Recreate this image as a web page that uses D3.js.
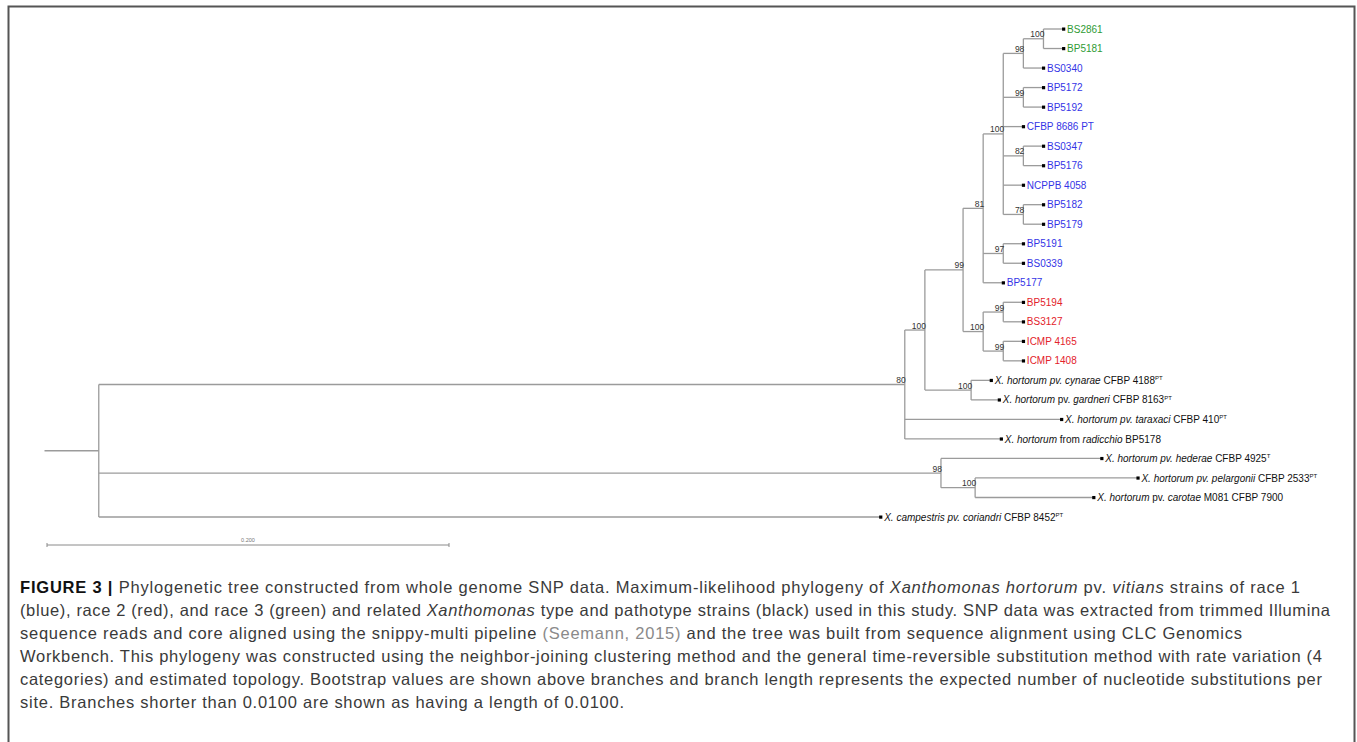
<!DOCTYPE html>
<html>
<head>
<meta charset="utf-8">
<script src="https://cdn.jsdelivr.net/npm/d3@7"></script>
<style>
  html, body { margin: 0; padding: 0; background: #fff; }
  svg { display: block; }
</style>
</head>
<body>
<svg id="chart" width="1357" height="742"></svg>
<script>
// ---------------- DATA ----------------
const nodeIds = ["root","n80","n100a","n99a","n81","n100b","n98a","n100c","BS2861","BP5181","BS0340","n99b","BP5172","BP5192","CFBP 8686 PT","n82","BS0347","BP5176","NCPPB 4058","n78","BP5182","BP5179","n97","BP5191","BS0339","BP5177","n100d","n99c","BP5194","BS3127","n99d","ICMP 4165","ICMP 1408","n100e","cynarae","gardneri","taraxaci","radicchio","n98b","hederae","n100f","pelargonii","carotae","campestris"];
const parentIds = [null,"root","n80","n100a","n99a","n81","n100b","n98a","n100c","n100c","n98a","n100b","n99b","n99b","n100b","n100b","n82","n82","n100b","n100b","n78","n78","n81","n97","n97","n81","n99a","n100d","n99c","n99c","n100d","n99d","n99d","n100a","n100e","n100e","n80","n80","root","n98b","n98b","n100f","n100f","root"];
// branch lengths (expected substitutions per site; short branches shown as 0.0100)
const branchLengths = [0.027,0.401,0.010,0.019,0.010,0.010,0.010,0.010,0.010,0.010,0.010,0.010,0.010,0.010,0.010,0.010,0.010,0.010,0.010,0.010,0.010,0.010,0.010,0.010,0.010,0.010,0.010,0.010,0.010,0.010,0.010,0.010,0.010,0.023,0.010,0.014,0.078,0.048,0.419,0.080,0.017,0.081,0.059,0.389];
const bootstrapValues = [null,80,100,99,81,100,98,100,null,null,null,99,null,null,null,82,null,null,null,78,null,null,97,null,null,null,100,99,null,null,99,null,null,100,null,null,null,null,98,null,100,null,null,null];
// leaf display labels (markup: <i> italic, <sup> superscript)
const speciesLabels = {
  "cynarae": "<i>X. hortorum pv. cynarae</i>  CFBP 4188<sup>PT</sup>",
  "gardneri": "<i>X. hortorum</i> pv. <i>gardneri</i> CFBP 8163<sup>PT</sup>",
  "taraxaci": "<i>X. hortorum pv. taraxaci</i>  CFBP 410<sup>PT</sup>",
  "radicchio": "<i>X. hortorum</i> from <i>radicchio</i> BP5178",
  "hederae": "<i>X. hortorum pv. hederae</i>  CFBP 4925<sup>T</sup>",
  "pelargonii": "<i>X. hortorum pv. pelargonii</i>  CFBP 2533<sup>PT</sup>",
  "carotae": "<i>X. hortorum</i> pv. <i>carotae</i> M081 CFBP 7900",
  "campestris": "<i>X. campestris pv. coriandri</i>  CFBP 8452<sup>PT</sup>"
};
const race1Strains = ["BS0340","BP5172","BP5192","CFBP 8686 PT","BS0347","BP5176","NCPPB 4058","BP5182","BP5179","BP5191","BS0339","BP5177"];
const race2Strains = ["BP5194","BS3127","ICMP 4165","ICMP 1408"];
const race3Strains = ["BS2861","BP5181"];
const scaleBarValue = 0.2;
const scaleBarLabel = "0.200";

const captionLines = [
  "<b>FIGURE 3 |</b> Phylogenetic tree constructed from whole genome SNP data. Maximum-likelihood phylogeny of <i>Xanthomonas hortorum</i> pv. <i>vitians</i> strains of race 1",
  "(blue), race 2 (red), and race 3 (green) and related <i>Xanthomonas</i> type and pathotype strains (black) used in this study. SNP data was extracted from trimmed Illumina",
  "sequence reads and core aligned using the snippy-multi pipeline <a>(Seemann, 2015)</a> and the tree was built from sequence alignment using CLC Genomics",
  "Workbench. This phylogeny was constructed using the neighbor-joining clustering method and the general time-reversible substitution method with rate variation (4",
  "categories) and estimated topology. Bootstrap values are shown above branches and branch length represents the expected number of nucleotide substitutions per",
  "site. Branches shorter than 0.0100 are shown as having a length of 0.0100."
];

// ---------------- STYLE ----------------
const colors = { race1: "#3434e6", race2: "#e3222b", race3: "#2f9b35", other: "#111" };
const branchColor = "#9b9b9b";
const captionWidths = [1280, 1310, 1222, 1302, 1302, 604];
const svg = d3.select("#chart");

// frame
svg.append("rect").attr("x", 8.5).attr("y", 6.5).attr("width", 1346).attr("height", 760)
  .attr("fill", "none").attr("stroke", "#555").attr("stroke-width", 2);

// ---------------- TREE ----------------
const table = nodeIds.map((id, i) => ({ id, parentId: parentIds[i], len: branchLengths[i], boot: bootstrapValues[i] }));
const root = d3.stratify().id(d => d.id).parentId(d => d.parentId)(table);
root.eachBefore(n => { n.dist = (n.parent ? n.parent.dist : 0) + n.data.len; });

const x = d3.scaleLinear().domain([0, 0.2]).range([44.5, 446.5]);
const leaves = root.leaves();
const y = d3.scaleLinear().domain([0, leaves.length - 1]).range([29, 517]);
leaves.forEach((l, i) => { l.yy = y(i); });
root.eachAfter(n => {
  if (n.children) n.yy = (n.children[0].yy + n.children[n.children.length - 1].yy) / 2;
});

const g = svg.append("g");
// horizontal branches
g.selectAll("line.h").data(root.descendants()).join("line")
  .attr("class", "h")
  .attr("x1", d => x(d.parent ? d.parent.dist : 0))
  .attr("x2", d => x(d.dist))
  .attr("y1", d => d.yy).attr("y2", d => d.yy)
  .attr("stroke", branchColor).attr("stroke-width", 1.3);
// vertical connectors
g.selectAll("line.v").data(root.descendants().filter(d => d.children)).join("line")
  .attr("class", "v")
  .attr("x1", d => x(d.dist)).attr("x2", d => x(d.dist))
  .attr("y1", d => d.children[0].yy)
  .attr("y2", d => d.children[d.children.length - 1].yy)
  .attr("stroke", branchColor).attr("stroke-width", 1.3);

// bootstrap labels
g.selectAll("text.boot").data(root.descendants().filter(d => d.data.boot != null)).join("text")
  .attr("class", "boot")
  .attr("x", d => x(d.dist) + 1)
  .attr("y", d => d.yy - 1.5)
  .attr("text-anchor", "end")
  .attr("font-family", "Liberation Sans, Arial, sans-serif")
  .attr("font-size", 8.5)
  .attr("fill", "#333")
  .text(d => d.data.boot);

// tip markers
g.selectAll("rect.tip").data(leaves).join("rect")
  .attr("class", "tip")
  .attr("x", d => x(d.dist) - 1.5).attr("y", d => d.yy - 1.5)
  .attr("width", 3.2).attr("height", 3.2).attr("fill", "#000");

function colorOf(id) {
  if (race1Strains.includes(id)) return colors.race1;
  if (race2Strains.includes(id)) return colors.race2;
  if (race3Strains.includes(id)) return colors.race3;
  return colors.other;
}

function addRich(textSel, markup, baseSize) {
  const parts = markup.split(/(<i>.*?<\/i>|<b>.*?<\/b>|<sup>.*?<\/sup>|<a>.*?<\/a>)/).filter(s => s.length);
  let raised = false;
  parts.forEach(p => {
    let m;
    const t = textSel.append("tspan");
    if ((m = p.match(/^<i>(.*)<\/i>$/))) t.attr("font-style", "italic").text(m[1]);
    else if ((m = p.match(/^<b>(.*)<\/b>$/))) t.attr("font-weight", "bold").attr("fill", "#111").text(m[1]);
    else if ((m = p.match(/^<a>(.*)<\/a>$/))) t.attr("fill", "#8a8a8a").text(m[1]);
    else if ((m = p.match(/^<sup>(.*)<\/sup>$/))) { t.attr("font-size", baseSize * 0.6).attr("dy", -baseSize * 0.38).text(m[1]); raised = true; }
    else { t.text(p); if (raised) { t.attr("dy", baseSize * 0.38); raised = false; } }
  });
}

const labels = g.selectAll("text.leaf").data(leaves).join("text")
  .attr("class", "leaf")
  .attr("x", d => x(d.dist) + 3.5)
  .attr("y", d => d.yy + 3.6)
  .attr("font-family", "Liberation Sans, Arial, sans-serif")
  .attr("font-size", 10)
  .attr("fill", d => colorOf(d.id));
labels.each(function (d) {
  const sel = d3.select(this);
  if (speciesLabels[d.id]) addRich(sel, speciesLabels[d.id], 10);
  else sel.text(d.id);
});

// scale bar
const sbY = 545;
const sb = svg.append("g");
sb.append("line").attr("x1", x(0) + 2.5).attr("x2", x(scaleBarValue) + 2.5).attr("y1", sbY).attr("y2", sbY)
  .attr("stroke", "#8a8a8a").attr("stroke-width", 1);
[0, scaleBarValue].forEach(v => sb.append("line")
  .attr("x1", x(v) + 2.5).attr("x2", x(v) + 2.5).attr("y1", sbY - 2).attr("y2", sbY + 2)
  .attr("stroke", "#8a8a8a").attr("stroke-width", 1));
sb.append("text").attr("x", x(scaleBarValue / 2) + 2.5).attr("y", sbY - 3)
  .attr("text-anchor", "middle").attr("font-family", "Liberation Sans, Arial, sans-serif")
  .attr("font-size", 5.5).attr("fill", "#777").text(scaleBarLabel);

// caption
const cap = svg.append("g");
const capSize = 16.5;
captionLines.forEach((line, i) => {
  const t = cap.append("text")
    .attr("x", 20).attr("y", 593 + i * 23)
    .attr("font-family", "Liberation Sans, Arial, sans-serif")
    .attr("font-size", capSize)
    .attr("fill", "#3a3a3a")
    .attr("textLength", captionWidths[i])
    .attr("lengthAdjust", "spacing");
  addRich(t, line, capSize);
});
</script>
</body>
</html>
